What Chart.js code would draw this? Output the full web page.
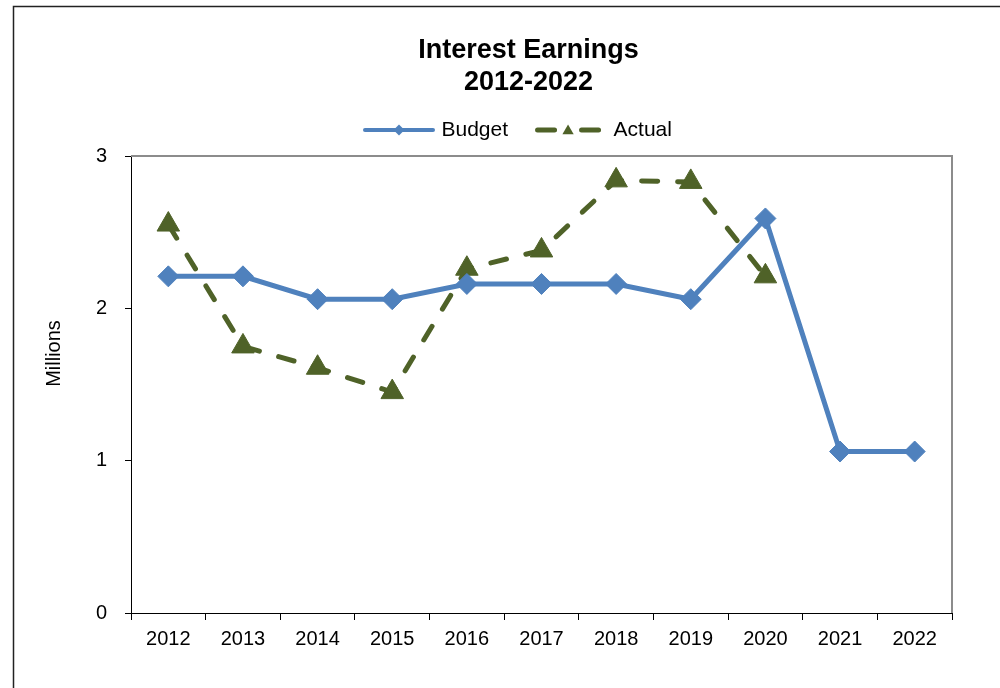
<!DOCTYPE html>
<html>
<head>
<meta charset="utf-8">
<title>Interest Earnings 2012-2022</title>
<script src="https://cdn.jsdelivr.net/npm/chart.js@4/dist/chart.umd.min.js"></script>
<style>
  html, body { margin: 0; padding: 0; background: #fff; overflow: hidden; }
  #wrap { width: 1000px; height: 688px; }
</style>
</head>
<body>
<div id="wrap"><canvas id="interestChart" width="1000" height="688"></canvas></div>
<script>
// chart data (millions)
const years = ["2012", "2013", "2014", "2015", "2016", "2017", "2018", "2019", "2020", "2021", "2022"];
const budget = [2.21, 2.21, 2.06, 2.06, 2.16, 2.16, 2.16, 2.06, 2.59, 1.06, 1.06];
const actual = [2.55, 1.75, 1.61, 1.45, 2.26, 2.38, 2.84, 2.83, 2.21, null, null];
const yRange = [0, 3];
const yStep = 1;

const FONT = "'Liberation Sans', Arial, sans-serif";
const BLUE = "#4F81BD";
const GREEN = "#4F6228";

// frame, plot border, legend samples and the y title
const decor = {
    id: "decor",
    afterUpdate(chart) {
        const t = chart.titleBlock;
        if (t) {
            const dx = 528.5 - (t.left + t.right) / 2;
            t.left += dx;
            t.right += dx;
        }
        const lg = chart.legend;
        if (lg && lg.legendHitBoxes.length) {
            const dx = 346 - lg.legendHitBoxes[0].left;
            lg.left += dx;
            lg.right += dx;
            lg.legendHitBoxes.forEach(hb => { hb.left += dx; });
        }
    },
    afterDraw(chart) {
        const ctx = chart.ctx;
        const area = chart.chartArea;
        ctx.save();

        // outer frame (only left and top are inside the picture)
        ctx.strokeStyle = "#222";
        ctx.lineWidth = 1.5;
        ctx.beginPath();
        ctx.moveTo(13.5, 688);
        ctx.lineTo(13.5, 6.5);
        ctx.lineTo(1000, 6.5);
        ctx.stroke();

        // top and right edge of the plot area
        ctx.strokeStyle = "#8c8c8c";
        ctx.lineWidth = 2;
        ctx.beginPath();
        ctx.moveTo(area.left, area.top);
        ctx.lineTo(area.right, area.top);
        ctx.lineTo(area.right, area.bottom);
        ctx.stroke();

        // legend samples
        const boxes = chart.legend.legendHitBoxes;
        const b = boxes[0], a = boxes[1];
        let y = b.top + b.height / 2;
        let x = b.left + 17;
        ctx.strokeStyle = BLUE;
        ctx.fillStyle = BLUE;
        ctx.lineWidth = 4;
        ctx.lineCap = "round";
        ctx.beginPath();
        ctx.moveTo(x + 2, y);
        ctx.lineTo(x + 70, y);
        ctx.stroke();
        Chart.helpers.drawPoint(ctx, { pointStyle: "rectRot", radius: 5.5, rotation: 0, borderWidth: 0 }, x + 36, y);

        y = a.top + a.height / 2;
        x = a.left + 17;
        ctx.strokeStyle = GREEN;
        ctx.fillStyle = GREEN;
        ctx.lineWidth = 5;
        ctx.beginPath();
        ctx.moveTo(x + 2.5, y);
        ctx.lineTo(x + 19.5, y);
        ctx.moveTo(x + 46.5, y);
        ctx.lineTo(x + 63.5, y);
        ctx.stroke();
        Chart.helpers.drawPoint(ctx, { pointStyle: "triangle", radius: 6.5, rotation: 0, borderWidth: 0 }, x + 33, y + 1);

        // y axis title
        ctx.fillStyle = "#000";
        ctx.font = "20px " + FONT;
        ctx.textAlign = "center";
        ctx.textBaseline = "middle";
        ctx.translate(54, 353.5);
        ctx.rotate(-Math.PI / 2);
        ctx.fillText("Millions", 0, 0);
        ctx.restore();
    }
};

new Chart(document.getElementById("interestChart"), {
    type: "line",
    data: {
        labels: years,
        datasets: [{
            label: "Budget",
            data: budget,
            borderColor: BLUE,
            backgroundColor: BLUE,
            borderWidth: 5,
            pointStyle: "rectRot",
            pointRadius: 10.5,
            pointBorderWidth: 1,
            pointBackgroundColor: BLUE,
            pointBorderColor: BLUE,
            tension: 0
        }, {
            label: "Actual",
            data: actual,
            borderColor: GREEN,
            backgroundColor: GREEN,
            borderWidth: 5,
            borderDash: [16, 20],
            borderCapStyle: "round",
            pointStyle: "triangle",
            pointRadius: 13,
            pointBorderWidth: 1,
            pointBackgroundColor: GREEN,
            pointBorderColor: GREEN,
            tension: 0
        }]
    },
    options: {
        responsive: false,
        animation: false,
        events: [],
        layout: { padding: { left: 14, right: 48, top: 10, bottom: 0 } },
        plugins: {
            title: {
                display: true,
                text: ["Interest Earnings", "2012-2022"],
                color: "#000",
                font: { family: FONT, size: 27, weight: "bold", lineHeight: 1.2 },
                padding: { top: 24, bottom: 5.2 }
            },
            legend: {
                display: true,
                position: "top",
                labels: {
                    color: "#000",
                    font: { family: FONT, size: 21 },
                    boxWidth: 85,
                    boxHeight: 32,
                    padding: 10,
                    generateLabels(chart) {
                        return chart.data.datasets.map((ds, i) => ({
                            text: ds.label,
                            fillStyle: "rgba(0,0,0,0)",
                            strokeStyle: "rgba(0,0,0,0)",
                            lineWidth: 0,
                            hidden: false,
                            datasetIndex: i
                        }));
                    }
                }
            },
            tooltip: { enabled: false }
        },
        scales: {
            x: {
                offset: true,
                grid: { display: true, offset: true, drawOnChartArea: false, drawTicks: true, tickLength: 7, color: "#000", lineWidth: 1 },
                border: { display: true, color: "#000", width: 1 },
                ticks: { color: "#000", font: { family: FONT, size: 20 }, padding: 7, maxRotation: 0, autoSkip: false },
                afterFit(scale) { scale.height = 75; }
            },
            y: {
                min: yRange[0],
                max: yRange[1],
                grid: { display: true, drawOnChartArea: false, drawTicks: true, tickLength: 6, color: "#000", lineWidth: 1 },
                border: { display: true, color: "#000", width: 1 },
                ticks: { stepSize: yStep, color: "#000", font: { family: FONT, size: 20 }, padding: 18 },
                afterFit(scale) { scale.width = 117; }
            }
        }
    },
    plugins: [decor]
});
</script>
</body>
</html>
